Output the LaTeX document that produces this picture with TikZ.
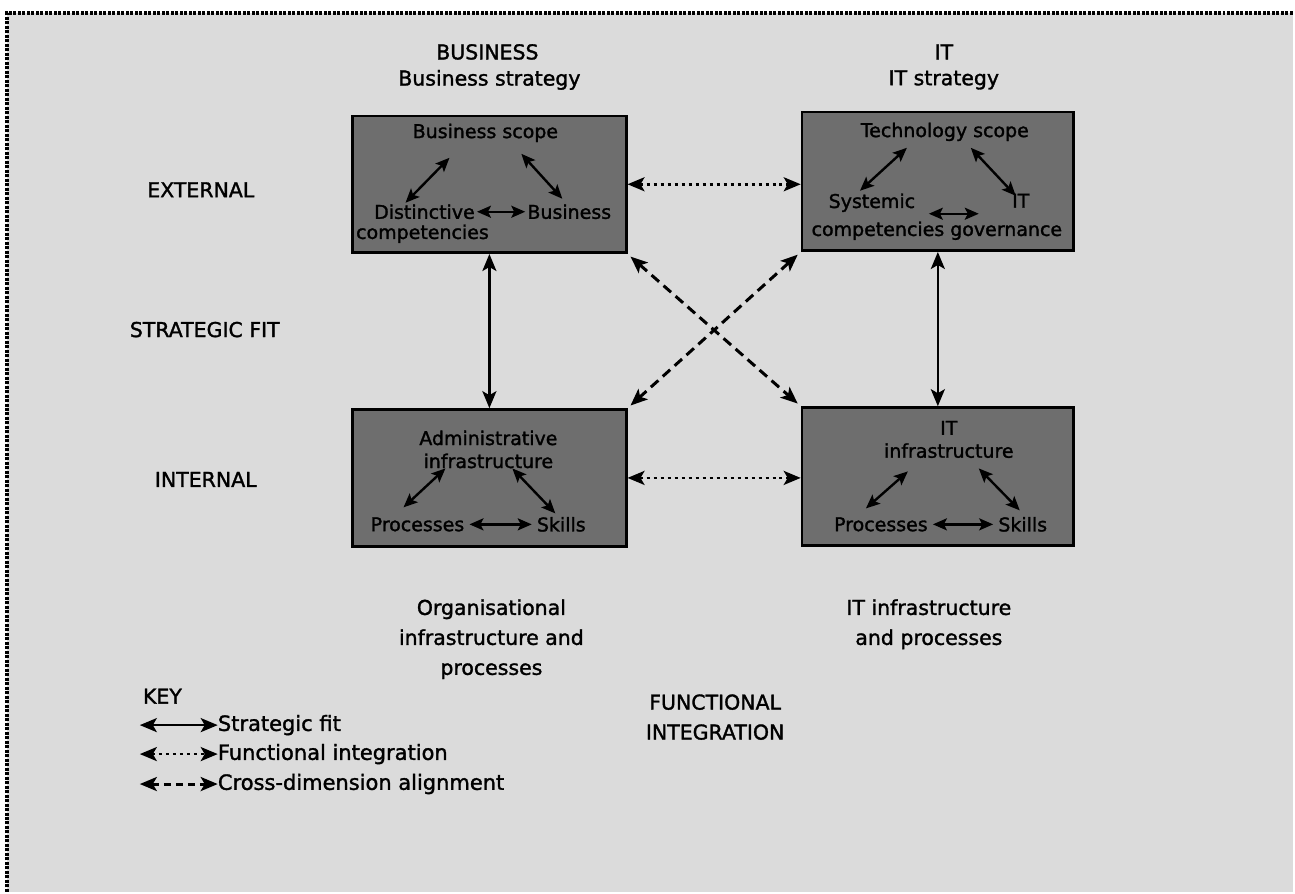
\documentclass[tikz,border=0pt]{standalone}
\usepackage{fontspec}
\setmainfont{DejaVu Sans}[FakeBold=1.5]
\usetikzlibrary{arrows.meta}
\begin{document}
\begin{tikzpicture}[x=1pt,y=-1pt,
  box/.style={draw=black, line width=2.6pt, fill=black!57, inner sep=0pt},
  lbl/.style={font=\fontsize{20.5}{30}\selectfont, inner sep=0pt, align=center, text=black},
  intext/.style={font=\fontsize{19}{23}\selectfont, inner sep=0pt, align=center, text=black},
  keytext/.style={font=\fontsize{21}{30}\selectfont, inner sep=0pt, anchor=west, text=black},
  tip/.style={{Stealth[length=17pt,width=14pt,inset=4pt]}-{Stealth[length=17pt,width=14pt,inset=4pt]}},
  fitline/.style={tip, line width=2.6pt},
  funcline/.style={tip, line width=2.6pt, dash pattern=on 3pt off 4pt},
  crossline/.style={tip, line width=3pt, dash pattern=on 10pt off 6pt},
  small/.style={{Stealth[length=14pt,width=12pt,inset=3pt]}-{Stealth[length=14pt,width=12pt,inset=3pt]}, line width=2.4pt},
  frame/.style={line width=3.2pt, dash pattern=on 3pt off 1.5pt, draw=black},
]
% page and background
\path[fill=white] (0,0) rectangle (1295,893);
\path[fill=black!14] (7,13) rectangle (1295,893);
\coordinate (fa) at (7,893);
\coordinate (fb) at (7,13);
\coordinate (fc) at (1295,13);
\draw[frame] (fa) -- (fb) -- (fc);
\useasboundingbox (0,0) rectangle (1295,893);

% boxes
\node[box, minimum width=274pt, minimum height=137pt] (b1) at (490,184.5) {};
\node[box, minimum width=272pt, minimum height=139pt] (b2) at (939,181.5) {};
\node[box, minimum width=274pt, minimum height=137pt] (b3) at (490,478.5) {};
\node[box, minimum width=272pt, minimum height=138pt] (b4) at (939,477) {};

% column / row headings
\node[lbl] (hbus) at (488,52) {BUSINESS};
\node[lbl] (hbs) at (490,80) {Business strategy};
\node[lbl] (hit) at (945,52) {IT};
\node[lbl] (hits) at (945,80) {IT strategy};
\node[lbl] (hext) at (201,190) {EXTERNAL};
\node[lbl] (hfit) at (205,330) {STRATEGIC FIT};
\node[lbl] (hint) at (206,480) {INTERNAL};
\node[lbl] (horg) at (492,640) {Organisational\\infrastructure and\\processes};
\node[lbl] (hitp) at (930,625) {IT infrastructure\\and processes};
\node[lbl] (hfun) at (716,718) {FUNCTIONAL\\INTEGRATION};

% box 1 contents
\node[intext] (s1) at (486,133) {Business scope};
\node[intext] (d1) at (425,212) {Distinctive};
\node[intext] (c1) at (423,234) {competencies};
\node[intext] (g1) at (570,212) {Business};
\coordinate (a1a) at (450,158); \coordinate (a1b) at (406,203);
\coordinate (a1c) at (522,154); \coordinate (a1d) at (563,199);
\draw[small] (a1a) -- (a1b);
\draw[small] (a1c) -- (a1d);
\draw[small, shorten <=2pt, shorten >=2pt] (d1.east) -- (g1.west);

% box 2 contents
\node[intext] (s2) at (946,132) {Technology scope};
\node[intext] (d2) at (873,203) {Systemic};
\node[intext] (c2) at (938,231) {competencies\hspace{6pt}governance};
\node[intext] (g2) at (1022,201) {IT};
\coordinate (a2a) at (908,148); \coordinate (a2b) at (861,191);
\coordinate (a2c) at (972,148); \coordinate (a2d) at (1017,196);
\coordinate (a2e) at (930,214); \coordinate (a2f) at (980,214);
\draw[small] (a2a) -- (a2b);
\draw[small] (a2c) -- (a2d);
\draw[small] (a2e) -- (a2f);

% box 3 contents
\node[intext] (t3) at (489,450) {Administrative\\infrastructure};
\node[intext] (p3) at (418,525) {Processes};
\node[intext] (k3) at (562,525) {Skills};
\coordinate (a3a) at (446,469); \coordinate (a3b) at (404,508);
\coordinate (a3c) at (513,469); \coordinate (a3d) at (556,514);
\draw[small] (a3a) -- (a3b);
\draw[small] (a3c) -- (a3d);
\draw[small, shorten <=5pt, shorten >=5pt] (p3.east) -- (k3.west);

% box 4 contents
\node[intext] (t4) at (950,440) {IT\\infrastructure};
\node[intext] (p4) at (882,525) {Processes};
\node[intext] (k4) at (1024,525) {Skills};
\coordinate (a4a) at (909,472); \coordinate (a4b) at (867,509);
\coordinate (a4c) at (980,469); \coordinate (a4d) at (1021,511);
\draw[small] (a4a) -- (a4b);
\draw[small] (a4c) -- (a4d);
\draw[small, shorten <=5pt, shorten >=5pt] (p4.east) -- (k4.west);

% main connectors
\draw[funcline] (b1.east) -- (b1.east -| b2.west);
\draw[funcline] (b3.east) -- (b3.east -| b4.west);
\draw[fitline] (b1.south) -- (b3.north);
\draw[fitline] (b2.south) -- (b4.north);
\draw[crossline, shorten <=4pt, shorten >=4pt] (b1.south east) -- (b4.north west);
\draw[crossline, shorten <=4pt, shorten >=4pt] (b2.south west) -- (b3.north east);

% key
\node[lbl, anchor=west] (key) at (143,697) {KEY};
\node[keytext] (k1) at (218,726) {Strategic fit};
\node[keytext] (k2) at (218,755) {Functional integration};
\node[keytext] (k3t) at (218,785) {Cross-dimension alignment};
\coordinate (l1) at (140,726);
\coordinate (l2) at (140,755);
\coordinate (l3) at (140,785);
\draw[fitline] (l1) -- (k1.west);
\draw[funcline] (l2) -- (k2.west);
\draw[crossline, dash pattern=on 7pt off 5pt] (l3) -- (k3t.west);
\end{tikzpicture}
\end{document}
